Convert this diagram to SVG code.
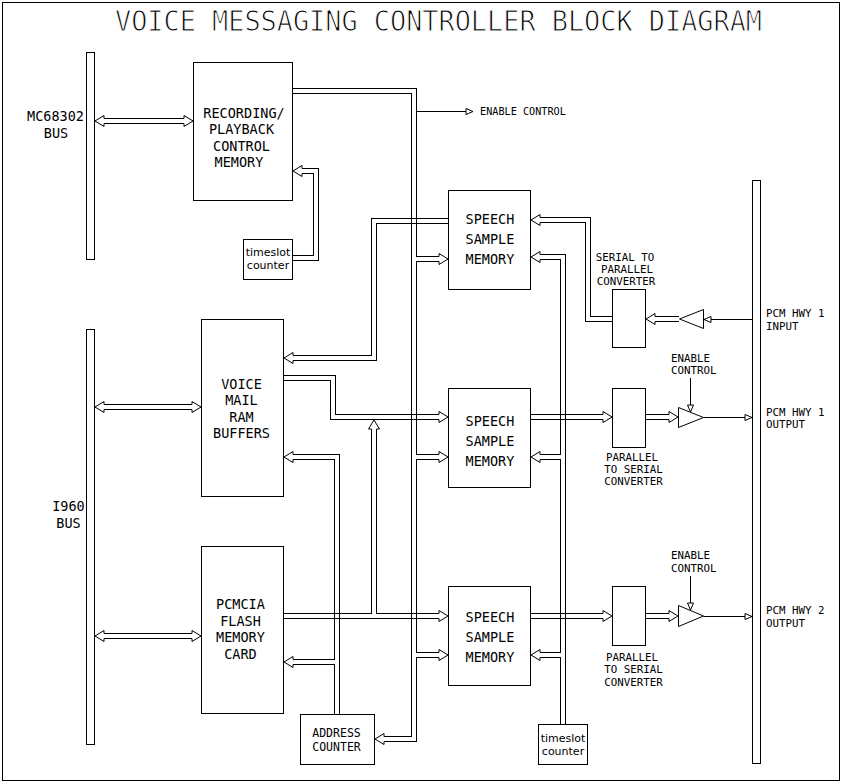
<svg xmlns="http://www.w3.org/2000/svg" xmlns:xlink="http://www.w3.org/1999/xlink" width="842" height="783" viewBox="0 0 842 783">
<style>
.box{fill:#fff;stroke:#000;stroke-width:1}
.ln{fill:none;stroke:#000;stroke-width:1}
.bo{fill:none;stroke:#000;stroke-width:6;stroke-linejoin:miter;stroke-linecap:butt}
.bi{fill:none;stroke:#fff;stroke-width:4;stroke-linejoin:miter;stroke-linecap:butt}
text{font-family:"DejaVu Sans Mono","Liberation Mono",monospace;fill:#000}
.t{font-size:13.5px;text-anchor:middle}
.s{font-size:10.8px;text-anchor:middle}
.sl{font-size:10.8px;text-anchor:start}
.ts{font-family:"DejaVu Sans","Liberation Sans",sans-serif;font-size:11px;text-anchor:middle}
.title{font-size:28px;text-anchor:middle;stroke:#fff;stroke-width:1px}
</style>
<defs>
<path id="ah" d="M-9,-2.5 L-9,-5.5 L0,0 L-9,5.5 L-9,2.5" fill="#fff" stroke="#000" stroke-width="1"/>
<path id="sa" d="M-7,-3 L0,0 L-7,3 Z" fill="#fff" stroke="#000" stroke-width="1"/>
</defs>
<rect x="0" y="0" width="842" height="783" fill="#fff"/>
<rect x="2.5" y="2.5" width="837" height="778" class="ln"/>
<text class="title" x="438.5" y="31" textLength="647" lengthAdjust="spacingAndGlyphs">VOICE MESSAGING CONTROLLER BLOCK DIAGRAM</text>

<g id="mc68302-bus">
<rect class="box" x="86.5" y="52.5" width="8" height="207"/>
<text class="t" x="55.5" y="121">MC68302</text>
<text class="t" x="56" y="138">BUS</text>
</g>
<g id="i960-bus">
<rect class="box" x="86.5" y="329.5" width="8" height="415"/>
<text class="t" x="68.5" y="510.5">I960</text>
<text class="t" x="68.5" y="527.5">BUS</text>
</g>
<g id="pcm-bus">
<rect class="box" x="752.5" y="180.5" width="8" height="583"/>
<text class="sl" x="766" y="316.5">PCM HWY 1</text>
<text class="sl" x="766" y="330">INPUT</text>
<text class="sl" x="766" y="415.5">PCM HWY 1</text>
<text class="sl" x="766" y="428.3">OUTPUT</text>
<text class="sl" x="766" y="614.3">PCM HWY 2</text>
<text class="sl" x="766" y="626.7">OUTPUT</text>
</g>
<g id="recording">
<rect class="box" x="193.5" y="62.5" width="99" height="138"/>
<text class="t" x="244" y="117.5">RECORDING/</text>
<text class="t" x="241.5" y="134">PLAYBACK</text>
<text class="t" x="241.5" y="150.5">CONTROL</text>
<text class="t" x="239" y="166.5">MEMORY</text>
</g>
<g id="timeslot1">
<rect class="box" x="243.5" y="239.5" width="49" height="40"/>
<text class="ts" x="268" y="256">timeslot</text>
<text class="ts" x="268" y="269">counter</text>
</g>
<g id="voice-mail">
<rect class="box" x="201.5" y="319.5" width="82" height="177"/>
<text class="t" x="241.5" y="388.7">VOICE</text>
<text class="t" x="241.5" y="405">MAIL</text>
<text class="t" x="241.5" y="421.7">RAM</text>
<text class="t" x="241.5" y="438.3">BUFFERS</text>
</g>
<g id="pcmcia">
<rect class="box" x="201.5" y="546.5" width="82" height="167"/>
<text class="t" x="240.5" y="609.3">PCMCIA</text>
<text class="t" x="240.5" y="625.7">FLASH</text>
<text class="t" x="240.5" y="642">MEMORY</text>
<text class="t" x="240.5" y="659">CARD</text>
</g>
<g id="address-counter">
<rect class="box" x="300.5" y="714.5" width="74" height="50"/>
<text class="s" x="336.5" y="736.7" style="font-size:11.5px">ADDRESS</text>
<text class="s" x="336.5" y="750.7" style="font-size:11.5px">COUNTER</text>
</g>
<g id="ssm1">
<rect class="box" x="448.5" y="190.5" width="82" height="99"/>
<text class="t" x="490" y="223.5">SPEECH</text>
<text class="t" x="490" y="243.5">SAMPLE</text>
<text class="t" x="490" y="263.5">MEMORY</text>
</g>
<g id="ssm2">
<rect class="box" x="448.5" y="388.5" width="82" height="99"/>
<text class="t" x="490" y="426">SPEECH</text>
<text class="t" x="490" y="446">SAMPLE</text>
<text class="t" x="490" y="466">MEMORY</text>
</g>
<g id="ssm3">
<rect class="box" x="448.5" y="586.5" width="82" height="99"/>
<text class="t" x="490" y="621.5">SPEECH</text>
<text class="t" x="490" y="641.5">SAMPLE</text>
<text class="t" x="490" y="661.5">MEMORY</text>
</g>
<g id="s2p">
<rect class="box" x="612.5" y="289.5" width="33" height="58"/>
<text class="s" x="625" y="260.7">SERIAL TO</text>
<text class="s" x="627" y="273.3">PARALLEL</text>
<text class="s" x="626" y="285">CONVERTER</text>
</g>
<g id="p2s1">
<rect class="box" x="612.5" y="388.5" width="33" height="59"/>
<text class="s" x="632" y="461">PARALLEL</text>
<text class="s" x="633.5" y="473.3">TO SERIAL</text>
<text class="s" x="633.5" y="485">CONVERTER</text>
</g>
<g id="p2s2">
<rect class="box" x="612.5" y="586.5" width="33" height="59"/>
<text class="s" x="632" y="661">PARALLEL</text>
<text class="s" x="633.5" y="673.3">TO SERIAL</text>
<text class="s" x="633.5" y="685.7">CONVERTER</text>
</g>
<g id="timeslot2">
<rect class="box" x="538.5" y="724.5" width="49" height="40"/>
<text class="ts" x="563" y="741.5">timeslot</text>
<text class="ts" x="563" y="755">counter</text>
</g>
<g id="buffer-in">
<polygon class="box" points="703.5,309.5 703.5,328.5 679.5,319"/>
</g>
<g id="buffer-out1">
<polygon class="box" points="678.5,407.5 678.5,427.5 703.5,417.5"/>
<text class="sl" x="671" y="361.7">ENABLE</text>
<text class="sl" x="671" y="374.3">CONTROL</text>
</g>
<g id="buffer-out2">
<polygon class="box" points="678.5,605.5 678.5,626.5 703.5,616"/>
<text class="sl" x="671" y="559">ENABLE</text>
<text class="sl" x="671" y="571.7">CONTROL</text>
</g>
<g id="enable-label">
<text class="sl" x="480" y="115" style="font-size:10.2px">ENABLE CONTROL</text>
</g>

<g id="connectors">
<!-- bus C: address counter -->
<path class="bo" d="M337,714V457H293M337,662H293"/>
<path class="bi" d="M337,714V457H293M337,662H293"/>
<use xlink:href="#ah" transform="translate(284,457) rotate(180)"/>
<use xlink:href="#ah" transform="translate(284,662) rotate(180)"/>
<!-- bus A: SSM1 to voice mail -->
<path class="bo" d="M448,221H374V358H293"/>
<path class="bi" d="M448,221H374V358H293"/>
<use xlink:href="#ah" transform="translate(284,358) rotate(180)"/>
<!-- bus T: timeslot counter 2 -->
<path class="bo" d="M563,724V257H540M563,457H540M563,655H540"/>
<path class="bi" d="M563,724V257H540M563,457H540M563,655H540"/>
<use xlink:href="#ah" transform="translate(531,257) rotate(180)"/>
<use xlink:href="#ah" transform="translate(531,457) rotate(180)"/>
<use xlink:href="#ah" transform="translate(531,655) rotate(180)"/>
<!-- bus R: recording memory -->
<path class="bo" d="M293,91H414V739H384M414,259H439M414,457H439M414,655H439"/>
<path class="bi" d="M293,91H414V739H384M414,259H439M414,457H439M414,655H439"/>
<use xlink:href="#ah" transform="translate(375,739) rotate(180)"/>
<use xlink:href="#ah" transform="translate(448,259)"/>
<use xlink:href="#ah" transform="translate(448,457)"/>
<use xlink:href="#ah" transform="translate(448,655)"/>
<!-- bus V: voice mail to SSM2 -->
<path class="bo" d="M284,378H333V417H439"/>
<path class="bi" d="M284,378H333V417H439"/>
<use xlink:href="#ah" transform="translate(448,417)"/>
<!-- bus P: PCMCIA to SSM3 -->
<path class="bo" d="M284,616H439M374,616V429"/>
<path class="bi" d="M284,616H439M374,616V429"/>
<use xlink:href="#ah" transform="translate(448,616)"/>
<use xlink:href="#ah" transform="translate(374,420) rotate(-90)"/>
<!-- bus S: serial to parallel to SSM1 -->
<path class="bo" d="M612,319H588V220H540"/>
<path class="bi" d="M612,319H588V220H540"/>
<use xlink:href="#ah" transform="translate(531,220) rotate(180)"/>
<!-- outputs -->
<path class="bo" d="M531,417H603M646,417H669M531,616H603M646,616H669M679,319H655"/>
<path class="bi" d="M531,417H603M646,417H669M531,616H603M646,616H669M679,319H655"/>
<use xlink:href="#ah" transform="translate(612,417)"/>
<use xlink:href="#ah" transform="translate(678,417)"/>
<use xlink:href="#ah" transform="translate(612,616)"/>
<use xlink:href="#ah" transform="translate(678,616)"/>
<use xlink:href="#ah" transform="translate(646,319) rotate(180)"/>
<!-- timeslot counter 1 to recording -->
<path class="bo" d="M293,258H316V171H302"/>
<path class="bi" d="M293,258H316V171H302"/>
<use xlink:href="#ah" transform="translate(293,171) rotate(180)"/>
<!-- bus bar double arrows -->
<path class="bo" d="M104,121H184M104,407H192M104,636H192"/>
<path class="bi" d="M104,121H184M104,407H192M104,636H192"/>
<use xlink:href="#ah" transform="translate(95,121) rotate(180)"/>
<use xlink:href="#ah" transform="translate(193,121)"/>
<use xlink:href="#ah" transform="translate(95,407) rotate(180)"/>
<use xlink:href="#ah" transform="translate(201,407)"/>
<use xlink:href="#ah" transform="translate(95,636) rotate(180)"/>
<use xlink:href="#ah" transform="translate(201,636)"/>
<!-- crossings: restore under-lines -->
<path class="ln" d="M411.5,218V224M416.5,218V224M411,218.5H417M411,223.5H417
M411.5,414V420M416.5,414V420M411,414.5H417M411,419.5H417
M411.5,613V619M416.5,613V619M411,613.5H417M411,618.5H417
M334.5,613V619M339.5,613V619M334,613.5H340M334,618.5H340
M560.5,414V420M565.5,414V420M560,414.5H566M560,419.5H566
M560.5,613V619M565.5,613V619M560,613.5H566M560,618.5H566"/>
<!-- thin signal lines -->
<path class="ln" d="M417,111.5H473M752,319.5H704M703.5,417.5H752M703.5,616.5H752M690.5,378V412M690.5,576V610"/>
<use xlink:href="#sa" transform="translate(473,111.5)"/>
<use xlink:href="#sa" transform="translate(704,319.5) rotate(180)"/>
<use xlink:href="#sa" transform="translate(752,417.5)"/>
<use xlink:href="#sa" transform="translate(752,616.5)"/>
<use xlink:href="#sa" transform="translate(690.5,412) rotate(90)"/>
<use xlink:href="#sa" transform="translate(690.5,610) rotate(90)"/>
</g>
</svg>
